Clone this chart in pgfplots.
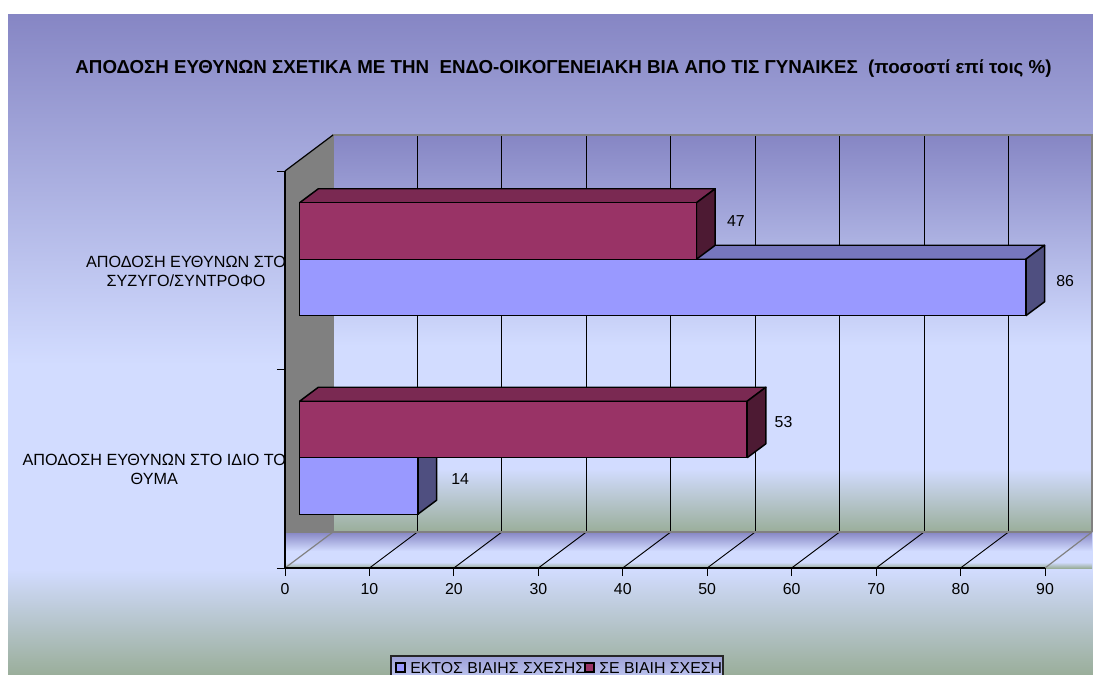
\documentclass[border=0pt]{standalone}
\usepackage{fontspec}
\setmainfont{Liberation Sans}
\usepackage{pgfplots}
\pgfplotsset{compat=1.18}
\definecolor{gTop}{HTML}{8686C4}
\definecolor{gMid}{HTML}{D2DCFF}
\definecolor{gBot}{HTML}{9AAE9A}
\definecolor{blueF}{HTML}{9999FF}
\definecolor{blueT}{HTML}{7676BE}
\definecolor{blueS}{HTML}{4F4F80}
\definecolor{marF}{HTML}{993366}
\definecolor{marT}{HTML}{7A2952}
\definecolor{marS}{HTML}{4D1A33}
\pgfdeclareverticalshading{office}{100bp}{color(0bp)=(gBot); color(25bp)=(gBot); color(33bp)=(gMid); color(48.5bp)=(gMid); color(75bp)=(gTop); color(100bp)=(gTop)}
\pgfdeclareverticalshading{legendshade}{100bp}{color(0bp)=(gMid); color(25bp)=(gMid); color(75bp)=(gTop!70!gMid); color(100bp)=(gTop!70!gMid)}
\def\px{0.75pt}
% 3-D faces of a bar: value, category position, signed offset of the bar centre (px), top colour, side colour
\newcommand\barfaces[5]{%
  \pgfmathsetmacro\xa{#1+2.215}%
  \pgfmathsetmacro\xo{2.215}%
  \pgfmathsetmacro\yl{#2+(#3-28.25)/198.5}%
  \pgfmathsetmacro\yh{#2+(#3+28.25)/198.5}%
  \pgfmathsetmacro\ylb{\yl+0.0705}%
  \pgfmathsetmacro\yhb{\yh+0.0705}%
  \addplot[fill=#4,draw=black,line width=1.1pt,line join=round,xshift=14.6*\px,yshift=11*\px] coordinates {(0,\yh) (#1,\yh) (\xa,\yhb) (\xo,\yhb) (0,\yh)};
  \addplot[fill=#5,draw=black,line width=1.1pt,line join=round,xshift=14.6*\px,yshift=11*\px] coordinates {(#1,\yl) (#1,\yh) (\xa,\yhb) (\xa,\ylb) (#1,\yl)};
}
\begin{document}
\begin{tikzpicture}[x=\px,y=-\px]
\path[use as bounding box,clip] (0,0) rectangle (1093,675);
\shade[shading=office] (8,14) rectangle (1093,675);
% back wall
\shade[shading=office] (333,135) rectangle (1092,532);
% floor band
\shade[shading=office] (285,532) rectangle (1092,568);
% side wall
\fill[black!50] (285,171) -- (333,135) -- (333,532) -- (285,532) -- cycle;
% wall and floor lines
\foreach \k in {1,...,8} {
  \draw[black,line width=0.7pt] ({333+84.44*\k},135) -- ({333+84.44*\k},532);
  \draw[black,line width=0.7pt] ({285+84.44*\k},568) -- ({333+84.44*\k},532);
}
\draw[black!50,line width=0.9pt] (285,532) -- (1092,532);
\draw[black!50,line width=0.9pt] (333,532) -- (333,135) -- (1092,135) -- (1092,532);
\draw[black!50,line width=0.9pt] (285,568) -- (333,532);
\draw[black!50,line width=0.9pt] (1045,568) -- (1092,532);
\draw[black,line width=0.9pt] (285,171) -- (333,135);
% title
\node[font=\bfseries\fontsize{14.05pt}{16pt}\selectfont,anchor=center,inner sep=0pt] at (563.5,69) {ΑΠΟΔΟΣΗ ΕΥΘΥΝΩΝ ΣΧΕΤΙΚΑ ΜΕ ΤΗΝ\ \ ΕΝΔΟ-ΟΙΚΟΓΕΝΕΙΑΚΗ ΒΙΑ ΑΠΟ ΤΙΣ ΓΥΝΑΙΚΕΣ\ \ (ποσοστί επί τοις \%)};
\begin{axis}[
  at={(213.75pt,-426pt)},anchor=south west,
  scale only axis,width=760*\px,height=397*\px,
  xmin=0,xmax=90,ymin=0,ymax=2,
  clip=false,
  axis x line*=bottom,axis y line*=left,
  axis line style={black,line width=0.9pt,-},
  xtick={0,10,...,90},
  ytick={0,1,2},yticklabels={},
  extra y ticks={0.5,1.5},
  extra y tick labels={{ΑΠΟΔΟΣΗ ΕΥΘΥΝΩΝ ΣΤΟ ΙΔΙΟ ΤΟ\\ΘΥΜΑ},{ΑΠΟΔΟΣΗ ΕΥΘΥΝΩΝ ΣΤΟ\\ΣΥΖΥΓΟ/ΣΥΝΤΡΟΦΟ}},
  extra y tick style={major tick length=0pt,yticklabel style={align=center,font=\fontsize{12.15pt}{14.3pt}\selectfont,inner sep=0pt,xshift=1pt,yshift=-0.75pt}},
  tick align=outside,
  major tick length=8*\px,
  tick style={black,line width=0.7pt},
  xticklabel style={font=\fontsize{11.9pt}{13pt}\selectfont,yshift=-2pt},
  /pgf/number format/assume math mode=true,
  bar shift=0pt,
]
% blue series: back to front
\barfaces{86}{1.5}{-28.25}{blueT}{blueS}
\barfaces{14}{0.5}{-28.25}{blueT}{blueS}
\addplot[xbar,bar width=56.5*\px,bar shift=-28.25*\px,fill=blueF,draw=black,line width=1.1pt,xshift=14.6*\px,yshift=11*\px] coordinates {(14,0.5) (86,1.5)};
% maroon series
\barfaces{47}{1.5}{28.25}{marT}{marS}
\barfaces{53}{0.5}{28.25}{marT}{marS}
\addplot[xbar,bar width=56.5*\px,bar shift=28.25*\px,fill=marF,draw=black,line width=1.1pt,xshift=14.6*\px,yshift=11*\px] coordinates {(53,0.5) (47,1.5)};
% data labels
\node[font=\fontsize{11.9pt}{13pt}\selectfont] at (axis cs:86,1.5) [xshift=54*\px,yshift=-11*\px] {86};
\node[font=\fontsize{11.9pt}{13pt}\selectfont] at (axis cs:14,0.5) [xshift=57*\px,yshift=-10*\px] {14};
\node[font=\fontsize{11.9pt}{13pt}\selectfont] at (axis cs:47,1.5) [xshift=54*\px,yshift=49*\px] {47};
\node[font=\fontsize{11.9pt}{13pt}\selectfont] at (axis cs:53,0.5) [xshift=51*\px,yshift=47*\px] {53};
\end{axis}
% legend
\shade[shading=legendshade,draw=black!85,line width=0.8pt] (391,656) rectangle (723,690);
\draw[fill=blueF,draw=black,line width=0.8pt] (396,663) rectangle (405,672);
\draw[fill=marF,draw=black,line width=0.8pt] (585,663) rectangle (594,672);
\node[font=\fontsize{11.9pt}{13pt}\selectfont,anchor=base west,inner sep=0pt] at (410,673) {ΕΚΤΟΣ ΒΙΑΙΗΣ ΣΧΕΣΗΣ};
\node[font=\fontsize{11.9pt}{13pt}\selectfont,anchor=base west,inner sep=0pt] at (599,673) {ΣΕ ΒΙΑΙΗ ΣΧΕΣΗ};
\end{tikzpicture}
\end{document}
